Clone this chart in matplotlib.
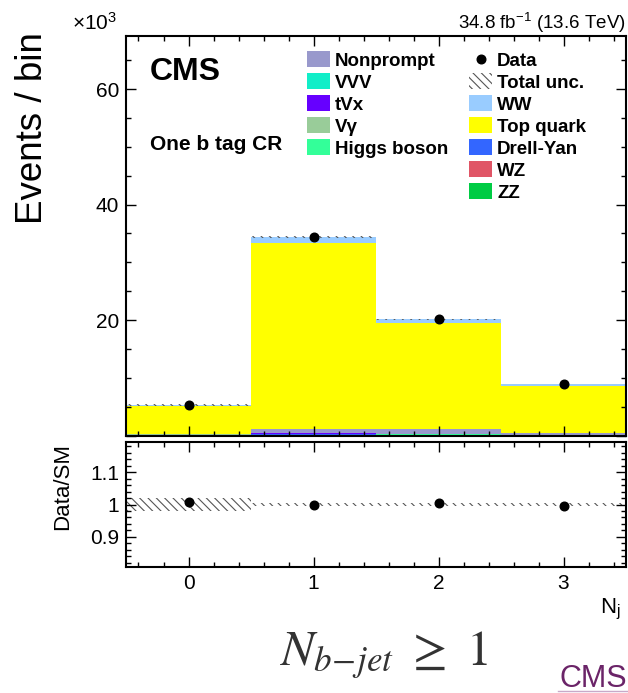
import numpy as np
import matplotlib

matplotlib.use("Agg")
import matplotlib.pyplot as plt
from matplotlib.patches import Rectangle
from matplotlib.ticker import MultipleLocator, FuncFormatter

plt.rcParams["font.family"] = ["Liberation Sans", "DejaVu Sans"]
plt.rcParams["mathtext.fontset"] = "custom"
plt.rcParams["mathtext.rm"] = "Liberation Sans"
plt.rcParams["mathtext.it"] = "Liberation Sans:italic"
plt.rcParams["hatch.linewidth"] = 0.8

# jet multiplicity bins, event counts in units of 10^3
n_jets = [0, 1, 2, 3]
zz = [0.08, 0.12, 0.10, 0.06]
wz = [0.02, 0.05, 0.04, 0.02]
drell_yan = [0.01, 0.02, 0.02, 0.01]
higgs = [0.05, 0.08, 0.07, 0.04]
v_gamma = [0.02, 0.04, 0.03, 0.02]
tvx = [0.01, 0.04, 0.03, 0.01]
vvv = [0.002, 0.004, 0.003, 0.002]
nonprompt = [0.03, 0.85, 0.75, 0.20]
top_quark = [4.83, 32.20, 18.46, 8.24]
ww = [0.25, 1.00, 0.60, 0.30]
data = [5.335, 34.37, 20.20, 8.87]
total_unc = [0.021, 0.005, 0.005, 0.005]  # relative

# stacking order, bottom to top
stack = [
    ("ZZ", zz, "#00cc44"),
    ("WZ", wz, "#e05566"),
    ("Drell-Yan", drell_yan, "#3366ff"),
    ("Higgs boson", higgs, "#33ff99"),
    ("V\u03b3", v_gamma, "#99cc99"),
    ("tVx", tvx, "#6600ff"),
    ("VVV", vvv, "#11eec8"),
    ("Nonprompt", nonprompt, "#9999cc"),
    ("Top quark", top_quark, "#ffff00"),
    ("WW", ww, "#99ccff"),
]
colors = {name: c for name, _, c in stack}

W, H = 628, 693
fig = plt.figure(figsize=(W / 100, H / 100), dpi=100)


def fx(px):
    return px / W


def fy(py):
    return 1 - py / H


ax = fig.add_axes([fx(126), fy(435.5), 500 / W, 399.5 / H])
rax = fig.add_axes([fx(126), fy(567), 500 / W, 125 / H])

x = np.array(n_jets, dtype=float)
bottom = np.zeros(len(x))
for name, vals, col in stack:
    ax.bar(x, vals, width=1.0, bottom=bottom, color=col, linewidth=0)
    bottom = bottom + np.array(vals)
total = bottom
unc = total * np.array(total_unc)

hatch_col = "#555555"
ax.bar(x, 2 * unc, width=1.0, bottom=total - unc, fill=False, hatch="\\\\\\\\",
       edgecolor=hatch_col, linewidth=0)
data_arr = np.array(data)
ax.errorbar(x, data_arr, yerr=np.sqrt(data_arr * 1e3) / 1e3, fmt="o", color="black",
            markersize=6.2, elinewidth=1, capsize=0, zorder=5)

ratio = data_arr / total
ratio_err = np.sqrt(data_arr * 1e3) / 1e3 / total
rax.bar(x, 2 * np.array(total_unc), width=1.0, bottom=1 - np.array(total_unc), fill=False,
        hatch="\\\\\\\\", edgecolor=hatch_col, linewidth=0)
rax.errorbar(x, ratio, yerr=ratio_err, fmt="o", color="black", markersize=6.2,
             elinewidth=1, capsize=0, zorder=5)

ax.set_xlim(-0.5, 3.5)
ax.set_ylim(0, 69.2)
rax.set_xlim(-0.5, 3.5)
rax.set_ylim(0.807, 1.193)

for a in (ax, rax):
    for s in a.spines.values():
        s.set_linewidth(1.5)
    a.xaxis.set_major_locator(MultipleLocator(1))
    a.xaxis.set_minor_locator(MultipleLocator(0.2))
    a.tick_params(which="both", direction="in", top=True, right=True, width=1.0,
                  labelsize=15, pad=5)
    a.tick_params(which="major", length=7)
    a.tick_params(which="minor", length=3.5)

ax.yaxis.set_major_locator(MultipleLocator(20))
ax.yaxis.set_minor_locator(MultipleLocator(5))
ax.yaxis.set_major_formatter(FuncFormatter(lambda v, p: "" if v == 0 else f"{v:g}"))
ax.tick_params(axis="x", labelbottom=False)

rax.yaxis.set_major_locator(MultipleLocator(0.1))
rax.yaxis.set_minor_locator(MultipleLocator(0.02))
rax.yaxis.set_major_formatter(FuncFormatter(lambda v, p: f"{v:g}"))

# axis titles, ROOT style
fig.text(fx(50), fy(32), "Events / bin", rotation=90, ha="right", va="top", fontsize=26.5)
fig.text(fx(73), fy(443), "Data/SM", rotation=90, ha="right", va="top", fontsize=16)
fig.text(fx(621), fy(613), r"N$_{\mathregular{j}}$", ha="right", va="baseline", fontsize=16)
fig.text(fx(72), fy(30), r"$\times$10$^{3}$", ha="left", va="baseline", fontsize=15)
fig.text(fx(626), fy(29), r"34.8 fb$^{-1}$ (13.6 TeV)", ha="right", va="baseline", fontsize=13.5)

fig.text(fx(150), fy(80), "CMS", ha="left", va="baseline", fontsize=23, fontweight="bold")
fig.text(fx(150), fy(150), "One b tag CR", ha="left", va="baseline", fontsize=15,
         fontweight="bold")

# legend, two columns
left_col = ["Nonprompt", "VVV", "tVx", "V\u03b3", "Higgs boson"]
right_col = ["Data", "Total unc.", "WW", "Top quark", "Drell-Yan", "WZ", "ZZ"]
row_h = 22
box_w, box_h = 23, 16


def legend_entry(x0, yc, label):
    if label == "Data":
        fig.add_artist(plt.Line2D([fx(x0 + box_w / 2)], [fy(yc)], marker="o", color="black",
                                  markersize=6.2, transform=fig.transFigure))
    elif label == "Total unc.":
        fig.add_artist(Rectangle((fx(x0), fy(yc + box_h / 2)), box_w / W, box_h / H,
                                 fill=False, hatch="\\\\\\\\", edgecolor=hatch_col,
                                 linewidth=0, transform=fig.transFigure))
    else:
        fig.add_artist(Rectangle((fx(x0), fy(yc + box_h / 2)), box_w / W, box_h / H,
                                 facecolor=colors[label], edgecolor="none",
                                 transform=fig.transFigure))
    fig.text(fx(x0 + box_w + 5), fy(yc), label, ha="left", va="center_baseline",
             fontsize=13.5, fontweight="bold")


for i, lab in enumerate(left_col):
    legend_entry(307, 59 + row_h * i, lab)
for i, lab in enumerate(right_col):
    legend_entry(469, 59 + row_h * i, lab)

# slide caption
fig.text(fx(384), fy(665), r"$N_{b\!-\!jet}\ \geq\ 1$", ha="center", va="baseline",
         fontsize=36, color="#333333", math_fontfamily="stix")
fig.text(fx(627), fy(687), "CMS", ha="right", va="baseline", fontsize=22, color="#6b2468")
fig.add_artist(plt.Line2D([fx(558), fx(627)], [fy(691), fy(691)], color="#c9a9c9",
                          linewidth=1, transform=fig.transFigure))

fig.savefig("out.png", dpi=100)
